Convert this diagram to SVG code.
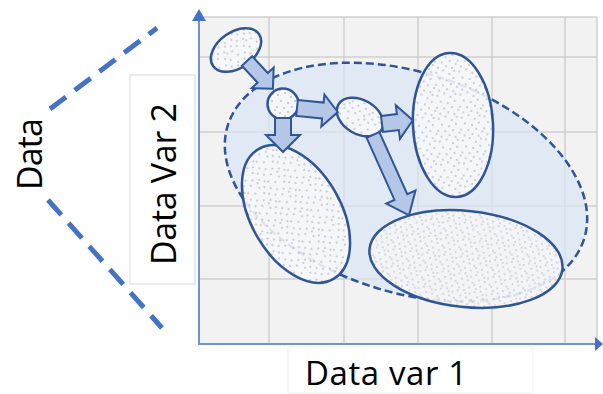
<svg xmlns="http://www.w3.org/2000/svg" width="603" height="394" viewBox="0 0 603 394">
<style>
.grid{stroke:#cfcfcf;stroke-width:1.5;fill:none}
.axis{stroke:#6f95d3;stroke-width:2;fill:none}
.ah{fill:#4472c4}
.lbl{font-family:"Open Sans","Liberation Sans",sans-serif;font-size:34px;fill:#000}
.dash{stroke:#4472c4;stroke-width:5;stroke-dasharray:20 11;fill:none}
.cl{stroke:#2f5597;stroke-width:2.5;fill:url(#dots)}
.cl2{stroke:#2f5597;stroke-width:2.5;fill:url(#dots2)}
.arr{fill:#b4c7e7;stroke:#2f5597;stroke-width:2;stroke-linejoin:miter}
</style>
<defs>
<pattern id="dots" width="23" height="23" patternUnits="userSpaceOnUse">
<rect width="23" height="23" fill="#f7f8fa" fill-opacity="0.88"/>
<g fill="#9a9a9a">
<circle cx="2" cy="3" r="0.8"/><circle cx="9" cy="1" r="0.8"/><circle cx="15" cy="5" r="0.8"/><circle cx="20" cy="2" r="0.8"/>
<circle cx="5" cy="9" r="0.8"/><circle cx="12" cy="11" r="0.8"/><circle cx="19" cy="9" r="0.8"/><circle cx="1" cy="15" r="0.8"/>
<circle cx="8" cy="16" r="0.8"/><circle cx="16" cy="15" r="0.8"/><circle cx="22" cy="18" r="0.8"/><circle cx="4" cy="21" r="0.8"/>
<circle cx="12" cy="20" r="0.8"/><circle cx="18" cy="22" r="0.8"/>
</g>
</pattern>
<pattern id="dots2" width="17" height="17" patternUnits="userSpaceOnUse">
<rect width="17" height="17" fill="#f5f6f8" fill-opacity="0.88"/>
<g fill="#a5a5a5">
<circle cx="2" cy="2" r="0.7"/><circle cx="8" cy="1" r="0.7"/><circle cx="14" cy="4" r="0.7"/><circle cx="5" cy="7" r="0.7"/>
<circle cx="11" cy="8" r="0.7"/><circle cx="16" cy="10" r="0.7"/><circle cx="1" cy="12" r="0.7"/><circle cx="7" cy="13" r="0.7"/>
<circle cx="13" cy="15" r="0.7"/><circle cx="3" cy="16" r="0.7"/><circle cx="10" cy="4" r="0.7"/>
</g>
</pattern>
</defs>

<g id="data-label">
<line class="dash" x1="50" y1="109" x2="157" y2="28"/>
<line class="dash" x1="48" y1="200" x2="162" y2="328"/>
<text class="lbl" transform="translate(42,154) rotate(-90)" text-anchor="middle" textLength="72">Data</text>
</g>

<g id="plot">
<rect x="200" y="17" width="397" height="327" fill="#f2f2f2"/>
<path class="grid" d="M269 17V344M344 17V344M418 17V344M492 17V344M565 17V344M597 17V344M200 17H597M200 57H597M200 132H597M200 206H597M200 279H597"/>
</g>

<g id="axes">
<line class="axis" x1="199" y1="18" x2="199" y2="345"/>
<line class="axis" x1="198" y1="344" x2="596" y2="344"/>
<polygon class="ah" points="199,9 192,21 206,21"/>
<polygon class="ah" points="603,344 595,337 595,351"/>
</g>

<g id="ylabel">
<rect x="130" y="75" width="65" height="209" fill="#fff" stroke="#d9d9d9" stroke-width="1"/>
<text class="lbl" transform="translate(176,184) rotate(-90)" text-anchor="middle" textLength="162">Data Var 2</text>
</g>

<g id="xlabel">
<rect x="288" y="347" width="245" height="46" fill="#fff" stroke="#f0f0f0" stroke-width="1"/>
<text class="lbl" x="386" y="385" text-anchor="middle" textLength="162" style="font-size:33px">Data var 1</text>
</g>

<g id="region">
<ellipse cx="406" cy="182" rx="187" ry="110" transform="rotate(17.8 406 182)" fill="#dae6f6" fill-opacity="0.7" stroke="#2f5597" stroke-width="2.5" stroke-dasharray="8 4"/>
</g>

<g id="clusters">
<ellipse id="c1" class="cl" cx="236" cy="50" rx="28" ry="18" transform="rotate(-35 236 50)"/>
<circle id="c2" class="cl" cx="283" cy="104" r="15.5"/>
<ellipse id="c3" class="cl" cx="360" cy="117" rx="25" ry="17" transform="rotate(30 360 117)"/>
<ellipse id="c4" class="cl" cx="453" cy="125" rx="40" ry="72" transform="rotate(-3 453 125)"/>
<ellipse id="c5" class="cl" cx="296" cy="214" rx="75" ry="45" transform="rotate(60 296 214)"/>
<ellipse id="c6" class="cl2" cx="466" cy="259" rx="97" ry="48" transform="rotate(6 466 259)"/>
</g>

<g id="connectors">
<polygon class="arr" transform="translate(247,61) rotate(47)" points="0,-7 23,-7 23,-15 38,0 23,15 23,7 0,7"/>
<polygon class="arr" transform="translate(297,108) rotate(5.6)" points="0,-8 26,-8 26,-16 41,0 26,16 26,8 0,8"/>
<polygon class="arr" transform="translate(283,118) rotate(90)" points="0,-8 17,-8 17,-17 34,0 17,17 17,8 0,8"/>
<polygon class="arr" transform="translate(382,124) rotate(-7)" points="0,-8 16,-8 16,-17 31,0 16,17 16,8 0,8"/>
<polygon class="arr" transform="translate(373,135) rotate(65.8)" points="0,-7 68,-7 68,-16 88,0 68,16 68,7 0,7"/>
</g>
</svg>
